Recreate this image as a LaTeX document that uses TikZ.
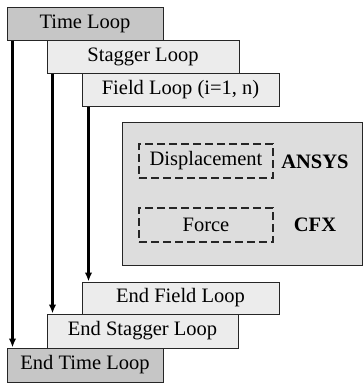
\documentclass[tikz,border=0pt]{standalone}
\usepackage{fontspec}
\setmainfont{Liberation Serif}
\usepackage{tikz}
\usetikzlibrary{arrows.meta,positioning,calc}

\tikzset{
  loopbox/.style={draw=black!85, line width=1pt, inner sep=0pt, minimum height=33pt},
  outerloop/.style={loopbox, fill=gray!45},
  innerloop/.style={loopbox, fill=gray!15},
  databox/.style={draw=black!85, line width=1.1pt, dash pattern=on 8pt off 4pt, inner sep=0pt, minimum width=134pt, minimum height=34pt},
  flow/.style={line width=2.4pt, -{Latex[length=9pt,width=7.5pt]}}
}

\begin{document}
\begin{tikzpicture}[x=1pt, y=-1pt, every node/.style={font=\fontsize{20.5}{24}\selectfont}]
        \useasboundingbox (0,0) rectangle (364,383);
        % Loop starts
        \node[outerloop, minimum width=156pt] (time) at (85,23.5) {Time Loop};
        \node[innerloop, minimum width=192pt] (stagger) at (143,56.5) {Stagger Loop};
        \node[innerloop, minimum width=197pt, minimum height=33.5pt] (field) at (180.5,90) {Field Loop (i=1, n)};
        % Coupled solvers
        \node[draw=black!85, line width=1pt, fill=gray!27, minimum width=240pt, minimum height=143pt] (solver) at (242,193.5) {};
        \node[databox] (disp) at (206,161) {Displacement};
        \node[databox] (force) at (206,225) {Force};
        \node[font=\fontsize{20.5}{24}\selectfont\bfseries] (ansys) at (315,161.5) {ANSYS};
        \node[font=\fontsize{20.5}{24}\selectfont\bfseries] (cfx) at (315,225) {CFX};
        % Loop ends
        \node[innerloop, minimum width=197pt, minimum height=32pt] (endfield) at (180.5,298) {End Field Loop};
        \node[innerloop, minimum width=191pt, minimum height=34pt] (endstagger) at (142.5,331) {End Stagger Loop};
        \node[outerloop, minimum width=156pt, minimum height=34pt] (endtime) at (85,365) {End Time Loop};
        % Loop arrows
        \draw[flow] ([xshift=6pt]time.south west) -- ([xshift=6pt]endtime.north west);
        \draw[flow] ([xshift=6pt]stagger.south west) -- ([xshift=6pt]endstagger.north west);
        \draw[flow] ([xshift=7pt]field.south west) -- ([xshift=7pt]endfield.north west);
    \end{tikzpicture}
\end{document}
